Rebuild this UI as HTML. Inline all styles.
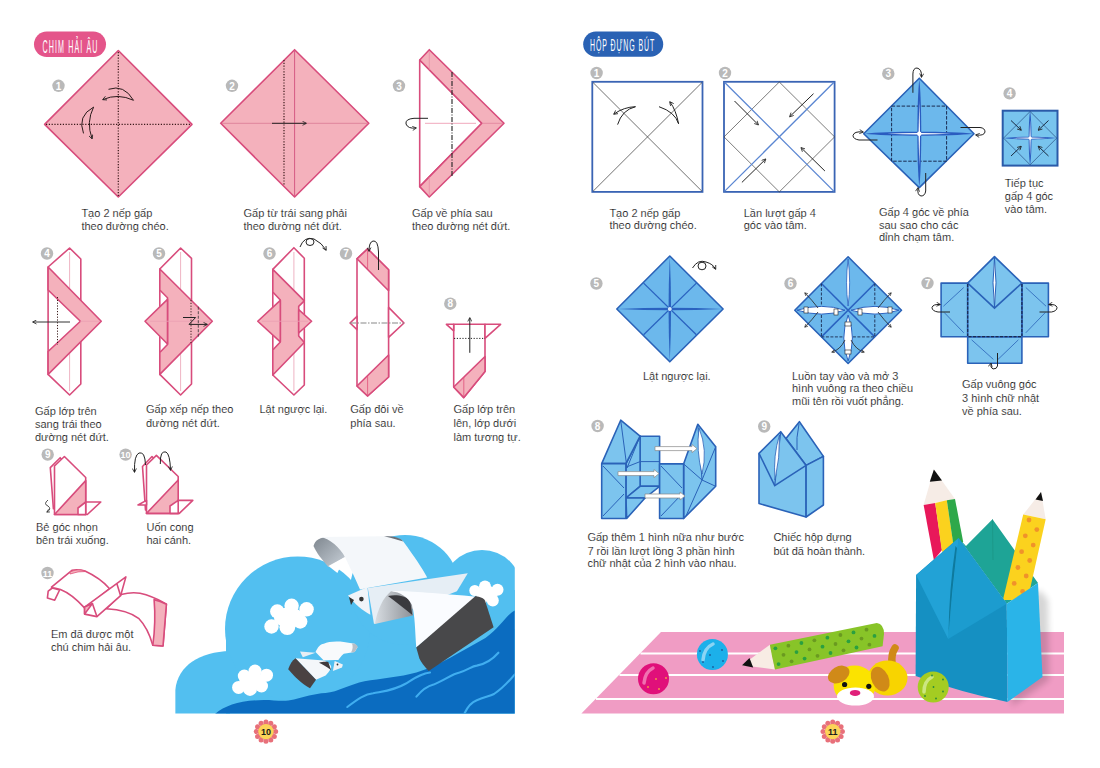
<!DOCTYPE html>
<html><head><meta charset="utf-8">
<style>
html,body{margin:0;padding:0;background:#fff;}
body{width:1100px;height:768px;overflow:hidden;position:relative;}
svg{position:absolute;left:0;top:0;}
text{font-family:"Liberation Sans",sans-serif;}
.t{font-size:11px;fill:#000;stroke:#fff;stroke-width:0.2;paint-order:normal;}
.pk{fill:#f4b1bc;stroke:#d84c7c;stroke-width:1.6;stroke-linejoin:round;}
.pw{fill:#fff;stroke:#d84c7c;stroke-width:1.6;stroke-linejoin:round;}
.pl{fill:none;stroke:#d84c7c;stroke-width:1.6;stroke-linejoin:round;}
.thin{fill:none;stroke:#eaa0b4;stroke-width:0.8;}
.dot{fill:none;stroke:#3a1a1a;stroke-width:1.2;stroke-dasharray:1.2 1.6;}
.arr{fill:none;stroke:#222;stroke-width:1;}
.num{fill:#b9b9b9;}
.numt{font-size:10px;fill:#fff;font-weight:bold;text-anchor:middle;}
.bf{fill:#7cc4ee;stroke:#2a62b8;stroke-width:1.6;stroke-linejoin:round;}
.bl{fill:none;stroke:#2a62b8;stroke-width:1;}
</style></head>
<body>
<svg width="1100" height="768" viewBox="0 0 1100 768">
<defs>
<marker id="ah" viewBox="0 0 10 10" refX="8" refY="5" markerWidth="5" markerHeight="5" orient="auto-start-reverse"><path d="M1 1 L9 5 L1 9" fill="none" stroke="#222" stroke-width="1.6"/></marker>
</defs>

<!-- ============ LEFT PAGE ============ -->
<g id="left">
<!-- header -->
<rect x="34" y="31.5" width="72" height="25.5" rx="12.75" fill="#e4558a"/>
<text transform="translate(42.4 52.8) scale(0.4 1)" x="0" y="0" font-size="17.8" fill="#fff" letter-spacing="2.8">CHIM HẢI ÂU</text>

<!-- step 1 -->
<circle class="num" cx="58.5" cy="85.8" r="6.2"/><text class="numt" x="58.5" y="89.5">1</text>
<polygon class="pk" points="118.3,50.5 192,124.4 118.3,197 44.6,124.4"/>
<line class="dot" x1="118.3" y1="52" x2="118.3" y2="196"/>
<line class="dot" x1="46" y1="124.4" x2="191" y2="124.4"/>
<path class="arr" d="M108.5,89.3 Q124,84 133.5,100.3 Q118,93 103,99.5" marker-end="url(#ah)" style="stroke:#2a1a1a"/>
<path class="arr" d="M83.5,133.4 Q77,116 93.6,107.1 Q86,122 92,138.5" marker-end="url(#ah)" style="stroke:#2a1a1a"/>
<text class="t" x="81.4" y="217">Tạo 2 nếp gấp</text>
<text class="t" x="81.4" y="229.5">theo đường chéo.</text>

<!-- step 2 -->
<circle class="num" cx="232" cy="85.8" r="6.2"/><text class="numt" x="232" y="89.5">2</text>
<polygon class="pk" points="294.6,49.7 368.8,123.3 294.6,197 220.7,123.3"/>
<line class="thin" x1="294.6" y1="50" x2="294.6" y2="196" style="stroke:#d65a84;stroke-width:1"/>
<line class="thin" x1="222" y1="123.3" x2="367" y2="123.3" style="stroke:#dd7f98;stroke-width:0.9"/>
<line class="dot" x1="284" y1="60" x2="284" y2="186"/>
<line class="arr" x1="272" y1="123.3" x2="306" y2="123.3" marker-end="url(#ah)"/>
<text class="t" x="243.5" y="217">Gấp từ trái sang phải</text>
<text class="t" x="243.5" y="229.5">theo đường nét đứt.</text>

<!-- step 3 -->
<circle class="num" cx="399" cy="85.8" r="6.2"/><text class="numt" x="399" y="89.5">3</text>
<polygon class="pw" points="419.7,60 481.8,123.3 419.7,186.6"/>
<polygon class="pk" points="419.7,60 429.3,49.7 504,123.3 429.3,197 419.7,186.6 481.8,123.3"/>
<line x1="425" y1="123.3" x2="476" y2="123.3" stroke="#f0a8bc" stroke-width="1"/><line x1="482" y1="123.3" x2="503" y2="123.3" stroke="#e07a96" stroke-width="0.7"/><line x1="429.3" y1="51" x2="429.3" y2="70" stroke="#e88aa4" stroke-width="0.7"/><line x1="429.3" y1="177" x2="429.3" y2="196" stroke="#e88aa4" stroke-width="0.7"/>
<line x1="452" y1="72" x2="452" y2="176" stroke="#222" stroke-width="1.1" stroke-dasharray="5 1.5 1 1.5"/>
<path class="arr" d="M428 118.3 L414 118.3 Q405 119 406 124 Q408 129 416 128" marker-end="url(#ah)"/>
<text class="t" x="412" y="217">Gấp về phía sau</text>
<text class="t" x="412" y="229.5">theo đường nét đứt.</text>

<!-- step 4 -->
<circle class="num" cx="47" cy="253.5" r="6.2"/><text class="numt" x="47" y="257.2">4</text>
<polygon class="pw" points="69.6,248 80.8,259 80.8,384 69.6,395 48.1,374.4 48.1,267"/>
<line class="thin" x1="69.6" y1="252" x2="69.6" y2="292"/><line class="thin" x1="69.6" y1="350" x2="69.6" y2="391"/>
<polygon class="pk" points="48.1,267 101.25,321.25 48.1,374.4 48.1,351.5 80.4,321.25 48.1,290"/>
<line class="thin" x1="80" y1="321.25" x2="100" y2="321.25"/>
<line class="dot" x1="57.5" y1="297" x2="57.5" y2="345" style="stroke-width:1"/>
<line class="arr" x1="70" y1="322" x2="33" y2="322" marker-end="url(#ah)" style="stroke:#333"/>
<text class="t" x="35" y="414.5">Gấp lớp trên</text>
<text class="t" x="35" y="428.2">sang trái theo</text>
<text class="t" x="35" y="441.4">đường nét đứt.</text>

<!-- step 5 -->
<circle class="num" cx="159" cy="253.5" r="6.2"/><text class="numt" x="159" y="257.2">5</text>
<polygon class="pw" points="180.6,248 191.5,258.3 191.5,384 180.6,395 159.8,374.4 159.8,269"/>
<line class="thin" x1="180.6" y1="252" x2="180.6" y2="292"/><line class="thin" x1="180.6" y1="350" x2="180.6" y2="391"/>
<polygon class="pk" points="159.8,269 212.3,321.25 159.8,374.4 159.8,352.5 167.5,344.5 167.5,297.7 159.8,290"/>
<polygon class="pk" points="145,321.25 167.5,299.4 167.5,344"/>
<line class="thin" x1="150" y1="321.25" x2="210" y2="321.25"/>
<line class="dot" x1="191" y1="300" x2="191" y2="343" style="stroke-width:1"/>
<line x1="198.3" y1="306.7" x2="198.3" y2="338" stroke="#333" stroke-width="0.8" stroke-dasharray="3 1.5"/>
<path class="arr" d="M183 317.5 L195.6 317.5 L189 324.4 L207 324.4" marker-end="url(#ah)"/>
<text class="t" x="146" y="413.4">Gấp xếp nếp theo</text>
<text class="t" x="146" y="427">đường nét đứt.</text>

<!-- step 6 -->
<circle class="num" cx="269.5" cy="253.5" r="6.2"/><text class="numt" x="269.5" y="257.2">6</text>
<polygon class="pw" points="293.9,247.7 304.3,258.3 304.3,385 293.9,395 272.8,375 272.8,269.4"/>
<line class="thin" x1="293.9" y1="252" x2="293.9" y2="292"/><line class="thin" x1="293.9" y1="350" x2="293.9" y2="391"/>
<polygon class="pk" points="272.8,269.4 304.3,300.9 298.7,306.4 298.7,336 304.3,342.5 272.8,375 272.8,350 280.3,342 280.3,300 272.8,292"/>
<polygon class="pk" points="257.75,321.25 280.3,300.4 280.3,341.8"/>
<polygon class="pk" points="298.7,309.7 311.6,321.25 298.7,333"/>
<line class="thin" x1="262" y1="321.25" x2="308" y2="321.25"/>
<path class="arr" d="M300 247 Q304 236 314 239 Q322 243 326 250" marker-end="url(#ah)"/>
<ellipse cx="310" cy="242" rx="4" ry="3.5" fill="none" stroke="#222" stroke-width="1"/>
<text class="t" x="259.5" y="413.4">Lật ngược lại.</text>

<!-- step 7 -->
<circle class="num" cx="346" cy="253.5" r="6.2"/><text class="numt" x="346" y="257.2">7</text>
<polygon class="pw" points="367.6,248.8 388.6,269.8 388.6,377 367.6,396 357,386 357,258.8"/>
<polygon class="pw" points="350,323 357,316.3 357,329.6"/>
<polygon class="pw" points="388.6,307.4 404,323 388.6,337.3"/>
<polygon class="pk" points="357,258.8 367.6,248.8 388.6,269.8 388.6,290.8"/>
<polygon class="pk" points="357,386 388.6,355 388.6,377 367.6,396"/>
<line class="thin" x1="367.6" y1="250" x2="367.6" y2="269" style="stroke:#e0507a"/>
<line class="thin" x1="367.6" y1="376" x2="367.6" y2="395" style="stroke:#e0507a"/>
<line x1="350" y1="323" x2="404" y2="323" stroke="#888" stroke-width="1.2" stroke-dasharray="6 1.5 1.5 1.5"/>
<path class="arr" d="M378.5 270 L378.5 252 Q378 240 373 241 Q369 242 369 251" marker-end="url(#ah)"/>
<text class="t" x="350.3" y="413.4">Gấp đôi về</text>
<text class="t" x="350.3" y="427">phía sau.</text>

<!-- step 8 -->
<circle class="num" cx="450.3" cy="303.7" r="6.2"/><text class="numt" x="450.3" y="307.4">8</text>
<polygon class="pw" points="453.7,324.3 485,324.3 485,371.4 463.8,397.6 453.7,387"/>
<polygon class="pw" points="446.4,324.3 453.7,324.3 453.7,330.8"/>
<polygon class="pw" points="485,324.3 500.6,324.3 485,338.4"/>
<polygon class="pk" points="453.7,387 485,356.5 485,371.4 463.8,397.6"/>
<line class="thin" x1="463.8" y1="377" x2="463.8" y2="396" style="stroke:#e0507a"/>
<line class="dot" x1="454" y1="338.4" x2="485" y2="338.4" style="stroke-width:1;stroke:#222"/>
<line class="arr" x1="469.8" y1="352.8" x2="469.8" y2="318" marker-end="url(#ah)"/>
<text class="t" x="453.5" y="413.4">Gấp lớp trên</text>
<text class="t" x="453.5" y="427">lên, lớp dưới</text>
<text class="t" x="453.5" y="440.5">làm tương tự.</text>

<!-- step 9 -->
<circle class="num" cx="47.7" cy="454.6" r="6.2"/><text class="numt" x="47.7" y="458.3">9</text>
<polygon class="pw" points="50.3,467.6 60.2,457.7 70,470 53.4,508.75"/>
<polygon class="pw" points="54.5,466 64.4,456.5 85.7,477.5 85.7,514.5 54.5,514.5"/>
<polygon class="pk" points="54.5,514.5 85.7,480.6 85.7,514.5"/>
<polygon class="pw" points="85.7,502 100.8,502 87.3,514.5 85.7,514.5"/>
<polygon class="pw" points="78,508 85.7,502 85.7,514.5 78,514.5"/>
<path class="arr" d="M48 500 Q43 504 48 506 Q52 509 47 512" marker-end="url(#ah)" style="stroke-width:0.8"/>
<text class="t" x="36" y="530.8">Bẻ góc nhọn</text>
<text class="t" x="36" y="544">bên trái xuống.</text>

<!-- step 10 -->
<circle class="num" cx="125.6" cy="454.6" r="6.2"/><text class="numt" x="125.6" y="458.3" style="font-size:9px">10</text>
<polygon class="pw" points="142.5,466.5 152,456.5 160,465 145.5,510"/>
<polygon class="pw" points="146.5,465 156.4,455.4 178.2,476.5 178.2,513.4 146.5,513.4"/>
<polygon class="pk" points="146.5,513.4 178.2,480 178.2,513.4"/>
<polygon class="pw" points="178.2,500.4 192.8,500.4 179.3,513.4 178.2,513.4"/>
<polygon class="pw" points="170,506 178.2,500.4 178.2,513.4 170,513.4"/>
<polygon class="pw" points="138,505 146.5,500.4 146.5,505"/>
<path class="arr" d="M145.5 465 Q145 451 139 453 Q134 455 134.5 472" marker-end="url(#ah)"/>
<path class="arr" d="M160.3 464 Q160 450 166 452 Q170 454 170.5 470" marker-end="url(#ah)"/>
<text class="t" x="146.5" y="530.8">Uốn cong</text>
<text class="t" x="146.5" y="544">hai cánh.</text>

<!-- step 11 -->
<circle class="num" cx="47.5" cy="573" r="6.2"/><text class="numt" x="47.5" y="576.7" style="font-size:9px">11</text>
<path class="pw" d="M51.5,587.1 L71.9,570.3 Q78,569 85,571.1 Q100,578 109.6,588.7 L85,608.4 Q72,594 60.5,589.5 Q55,588 52.3,587.9 Z"/>
<path d="M70,572 Q78,568 86,571.5 Q78,571 70,574 Z" fill="#f4b3bd" stroke="#e0507a" stroke-width="0.8"/>
<path class="pw" d="M52.3,588 L48.2,591.2 L47.4,598.1 L54.7,600.2 L59.6,590 Z"/>
<path class="pw" d="M121,594.5 Q135,591 146,594.8 Q158,599 166.4,604.3 L163,646 L152.8,645.3 Q148,628 139,618.7 Q128,610 106.3,608.8 Z"/>
<path class="pk" d="M154.1,599.6 Q160,601 166.4,604.3 L163,646 L152.8,645.3 Q156,622 154.1,599.6 Z"/>
<path class="pw" d="M84.6,607.1 L125.9,576.9 L120.6,595.7 L96.9,616.6 L84.6,614.1 Z"/>
<path class="pk" d="M84.6,607.1 L92.4,603.5 L84.6,614.1 Z"/>
<path class="pl" d="M92.4,603.5 L96.9,616.6 M116.9,583.8 L120.6,595.7"/>
<text class="t" x="51" y="637.8">Em đã được một</text>
<text class="t" x="51" y="650.5">chú chim hải âu.</text>

<!-- cloud scene -->
<clipPath id="scn"><rect x="175.2" y="400" width="339.6" height="313.6"/></clipPath>
<g clip-path="url(#scn)">
<g fill="#52bff0">
<rect x="226" y="629" width="289" height="85"/>
<path d="M175.2,714 L175.2,690 C178,665 200,652 230,651 L230,714 Z"/>
<circle cx="297.6" cy="629" r="72.6"/>
<circle cx="405" cy="590" r="55"/>
<circle cx="482" cy="590" r="40"/>
<rect x="440" y="590" width="75" height="124"/>
</g>
<path fill="#0b6cc0" d="M215,714 C226,705 240,700.5 263.7,700 C276,700 284,702 294,699.5 C304,697 314,693.5 325.6,692.9 C338,692 350,684 364.5,681.2 C380,678.6 400,677 416.4,672.5 C440,665 460,652 485.4,638 C500,628 506,615 514.8,610.4 L514.8,714 Z"/>
<g fill="none" stroke="#40aef0" stroke-width="2.1" stroke-linecap="round">
<path d="M347.3,707 C358,699 365,694 373.2,693.3 C385,691 395,690 405,684 C415,678 422,673 430,672.5"/>
<path d="M416.4,696.7 C422,690 428,686 433.6,684.6 C445,680 452,674 459.5,672.5 C468,670 472,666 476.8,665.6 C485,664 492,660 498.4,652.7"/>
<path d="M464.7,713 C468,706 472,702 476.8,700.2 C485,697 490,696 494,694 C500,690 505,686 514.8,674.3"/>
</g>
<!-- white clouds -->
<g fill="#fff">
<circle cx="277.3" cy="611.5" r="7.2"/><circle cx="291.6" cy="605.8" r="7.2"/><circle cx="306.6" cy="609.3" r="7.2"/>
<circle cx="271.5" cy="626.5" r="7.2"/><circle cx="287.3" cy="627.2" r="7.9"/><circle cx="300.2" cy="621.5" r="7.2"/>
<ellipse cx="289" cy="617.5" rx="15" ry="10"/>
<circle cx="244.3" cy="676" r="6.5"/><circle cx="255" cy="671" r="6.5"/><circle cx="266.5" cy="675.2" r="6.5"/>
<circle cx="238.6" cy="687.4" r="6.5"/><circle cx="250" cy="688.9" r="7"/><circle cx="261.5" cy="686" r="6.5"/>
<ellipse cx="252.5" cy="681" rx="13" ry="8"/>
<circle cx="474.8" cy="590.5" r="5.5"/><circle cx="485" cy="586.6" r="6"/><circle cx="497.5" cy="589.7" r="6"/><circle cx="492.8" cy="600.6" r="6"/><circle cx="482" cy="598" r="6"/><ellipse cx="487" cy="593" rx="11" ry="7"/>
</g>
</g>
<!-- big seagull -->
<defs>
<linearGradient id="gcurl" x1="0" y1="0" x2="1" y2="1"><stop offset="0" stop-color="#7e868e"/><stop offset="1" stop-color="#c8d0d8"/></linearGradient>
<linearGradient id="gcav" x1="0" y1="0" x2="1" y2="0"><stop offset="0" stop-color="#d8dde2"/><stop offset="1" stop-color="#8c9096"/></linearGradient>
</defs>
<path fill="url(#gcurl)" d="M313.5,546 C315,540 320,537 330,537 C338,540 342,548 345,557 L328.4,567 C322,560 316,552 313.5,546 Z"/>
<path fill="#fff" d="M328.4,566 L345,557 L337.4,573 Z"/>
<path fill="#f4f7fa" d="M319.5,537 L384,536.2 C395,537 400,538 403.3,541.5 C414,556 422,568 427.2,577.4 L367.4,587.9 L360,589.4 C356,580 352,572 345,557 C340,548 330,538 319.5,537 Z"/>
<path fill="#6a7078" d="M384,536.2 C395,536 401,538 403.3,541.5 L398,540 C392,538 388,537 384,536.2 Z"/>
<path fill="#e6eef5" d="M367.8,588 L467.8,573.3 L456.9,591.3 L374,624 Z"/>
<path fill="url(#gcav)" d="M374.8,624 C378,608 383,598 391,591.25 C400,592 408,594 412,600 L413,615.5 Z"/>
<path fill="#3a3a3e" d="M388,596 C396,594 405,596 410,600 L412.3,615 C404,608 396,602 388,596 Z"/>
<path fill="#fafcff" d="M391,591.25 C400,590 430,593 478.75,596.7 L416.25,647.5 C415,630 415,615 412,605 C408,597 400,592 391,591.25 Z"/>
<path fill="#48484a" d="M416.25,647.5 L475.6,596 C480,597 484,598 485,600.6 L493.6,627.2 L428.75,671 C424,666 421,662 419.4,658.4 Z"/>
<path fill="#f0f4f8" d="M348,595.4 L367.4,587 L370.4,614.8 C362,610 355,604 348,595.4 Z"/>
<path fill="#333" d="M349,597 L354,600 L351,605 Z"/>
<circle cx="361.4" cy="599.1" r="2.3" fill="#333"/>
<!-- small seagull -->
<path fill="#e8eef4" d="M300,651.4 L315.5,652.8 L302.8,657.3 Z"/>
<path fill="#f8fafc" d="M315.5,651.9 C318,647 320,644 323.8,643.7 C328,641.5 336,641 343.8,641.9 L354.7,643.7 L357.5,647.3 L354.7,651.9 L343.8,653.7 C341,656 339,659 338.3,660 L334.7,660 L323.8,660.5 Z"/>
<path fill="#b8bec6" d="M352,643.5 L354.7,643.7 C357,645 358,646 357.5,647.3 L354.7,651.9 L351,652.5 C353,649 353,646 352,643.5 Z"/>
<path fill="#f4f7fa" d="M295.5,658.3 L323.8,660.5 C330,663 332,666 331,668.3 C329,672 327,674 325.6,675.6 L316,679.7 Z"/>
<path fill="#3e3a3c" d="M319,662.8 C322,661.5 326,661.5 328.3,661.9 L331,670 C327,667 322,664 319,662.8 Z"/>
<path fill="#eef2f6" d="M334.7,661 L342.9,664.6 L342,667.4 L332.9,671 Z"/>
<circle cx="337.5" cy="664.5" r="0.9" fill="#333"/>
<path fill="#4a4242" d="M288.2,669.2 C290,664 292,661 295.5,658.3 L316,679.7 L310,688.3 C302,684 294,676 288.2,669.2 Z"/>
<!-- page number 10 -->
<g transform="translate(265.95 731.6)"><g fill="#e8707a"><circle cx="9.70" cy="0.00" r="2.5"/><circle cx="8.40" cy="4.85" r="2.5"/><circle cx="4.85" cy="8.40" r="2.5"/><circle cx="0.00" cy="9.70" r="2.5"/><circle cx="-4.85" cy="8.40" r="2.5"/><circle cx="-8.40" cy="4.85" r="2.5"/><circle cx="-9.70" cy="0.00" r="2.5"/><circle cx="-8.40" cy="-4.85" r="2.5"/><circle cx="-4.85" cy="-8.40" r="2.5"/><circle cx="-0.00" cy="-9.70" r="2.5"/><circle cx="4.85" cy="-8.40" r="2.5"/><circle cx="8.40" cy="-4.85" r="2.5"/></g><circle r="8.2" fill="#e8707a"/><circle r="7.7" fill="#fcd458"/><text x="0" y="3.3" font-size="9" font-weight="bold" text-anchor="middle" fill="#1a1a1a">10</text></g>
</g>

<!-- ============ RIGHT PAGE ============ -->
<g id="right">
<rect x="583.2" y="31.5" width="80" height="25.3" rx="12.65" fill="#2a62b4"/>
<text transform="translate(590 50.9) scale(0.4 1)" x="0" y="0" font-size="17.4" fill="#fff" letter-spacing="2.27">HỘP ĐỰNG BÚT</text>

<!-- R step 1 -->
<circle class="num" cx="596.6" cy="73" r="6.2"/><text class="numt" x="596.6" y="76.7">1</text>
<rect x="592.3" y="81.8" width="110.2" height="110.1" fill="#fff" stroke="#3a64b4" stroke-width="1.8"/>
<line x1="593" y1="82.5" x2="702" y2="191.3" stroke="#333" stroke-width="0.7"/>
<line x1="702" y1="82.5" x2="593" y2="191.3" stroke="#333" stroke-width="0.7"/>
<path class="arr" d="M617.6 124.6 Q622 110 635.5 106.7 Q624 107 614 114" marker-end="url(#ah)"/>
<path class="arr" d="M659 106.7 Q675 112 678.6 123.8 Q676 110 670 102" marker-end="url(#ah)"/>
<text class="t" x="609.4" y="216.9">Tạo 2 nếp gấp</text>
<text class="t" x="609.4" y="229.4">theo đường chéo.</text>

<!-- R step 2 -->
<circle class="num" cx="725" cy="73" r="6.2"/><text class="numt" x="725" y="76.7">2</text>
<rect x="724" y="81.8" width="110.6" height="110.1" fill="#fff" stroke="#3a64b4" stroke-width="1.8"/>
<polygon points="779.3,82 834.6,136.9 779.3,191.9 724,136.9" fill="none" stroke="#444" stroke-width="0.7"/>
<line x1="724.5" y1="82.3" x2="834" y2="191.4" stroke="#5a86d2" stroke-width="1.3"/>
<line x1="834" y1="82.3" x2="724.5" y2="191.4" stroke="#5a86d2" stroke-width="1.3"/>
<line class="arr" x1="734.5" y1="101" x2="758.1" y2="124.6" marker-end="url(#ah)"/>
<line class="arr" x1="813.5" y1="93.7" x2="789.9" y2="116.5" marker-end="url(#ah)"/>
<line class="arr" x1="741.9" y1="182.4" x2="765.5" y2="159.3" marker-end="url(#ah)"/>
<line class="arr" x1="824.9" y1="171" x2="801.3" y2="147.9" marker-end="url(#ah)"/>
<text class="t" x="743.75" y="216.9">Lần lượt gấp 4</text>
<text class="t" x="743.75" y="229.4">góc vào tâm.</text>

<!-- R step 3 -->
<defs>
<linearGradient id="glh" x1="0" y1="0" x2="1" y2="0"><stop offset="0" stop-color="#2a62c0"/><stop offset="0.5" stop-color="#fff"/><stop offset="1" stop-color="#2a62c0"/></linearGradient>
<linearGradient id="glv" x1="0" y1="0" x2="0" y2="1"><stop offset="0" stop-color="#2a62c0"/><stop offset="0.5" stop-color="#fff"/><stop offset="1" stop-color="#2a62c0"/></linearGradient>
</defs>
<circle class="num" cx="888.3" cy="73.7" r="6.2"/><text class="numt" x="888.3" y="77.4">3</text>
<polygon class="bf" points="919.3,78.2 974,133.8 919.3,187.6 863.7,133.8" style="fill:#6cb8ec"/>
<rect x="891.6" y="106.1" width="55" height="55.1" fill="none" stroke="#1a2a50" stroke-width="1" stroke-dasharray="3.5 1.5"/>
<path d="M865 133.8 C885 131.2 953 131.2 973 133.8 C953 136.4 885 136.4 865 133.8 Z" fill="#2a5cc0"/>
<path d="M919.3 79.5 C916.7 100 916.7 166 919.3 186.5 C921.9 166 921.9 100 919.3 79.5 Z" fill="#2a5cc0"/>
<path d="M887 133.8 Q919.3 132.3 951 133.8 Q919.3 135.3 887 133.8 Z" fill="#fff"/>
<path d="M919.3 101 Q917.8 133.8 919.3 166 Q920.8 133.8 919.3 101 Z" fill="#fff"/>
<circle cx="919.3" cy="133.8" r="2.2" fill="#fff"/>
<path class="arr" d="M912.9 92.8 L912.9 74 Q913 68 917 68 Q922 69 921.5 77" marker-end="url(#ah)"/>
<path class="arr" d="M925.7 173 L925.7 191 Q925 196 921 196 Q917 195 918 188" marker-end="url(#ah)"/>
<path class="arr" d="M877.5 140 L859 140 Q853 139 853 135.5 Q854 131 863 132" marker-end="url(#ah)"/>
<path class="arr" d="M960.5 127.5 L980 127.5 Q985 128 985 132 Q984 136 976 135" marker-end="url(#ah)"/>
<text class="t" x="879" y="216">Gấp 4 góc về phía</text>
<text class="t" x="879" y="228.8">sau sao cho các</text>
<text class="t" x="879" y="241.4">đỉnh chạm tâm.</text>

<!-- R step 4 -->
<circle class="num" cx="1009.6" cy="93.4" r="6.2"/><text class="numt" x="1009.6" y="97.1">4</text>
<rect x="1002.7" y="110.7" width="54.8" height="54.9" fill="#78c4ee" stroke="#2a5aa8" stroke-width="2"/>
<polygon points="1030.1,111.5 1056.7,138.1 1030.1,164.8 1003.5,138.1" fill="none" stroke="#1a3a70" stroke-width="0.6"/>
<path d="M1004 138.1 C1014 136.2 1046 136.2 1056 138.1 C1046 140 1014 140 1004 138.1 Z" fill="#2a5cc0"/>
<path d="M1030.1 111.5 C1028.2 121 1028.2 155 1030.1 164.8 C1032 155 1032 121 1030.1 111.5 Z" fill="#2a5cc0"/>
<path d="M1012 138.1 Q1030.1 136.9 1048 138.1 Q1030.1 139.3 1012 138.1 Z" fill="#fff"/>
<path d="M1030.1 120 Q1028.9 138.1 1030.1 156 Q1031.3 138.1 1030.1 120 Z" fill="#fff"/>
<circle cx="1030.1" cy="138.1" r="1.6" fill="#fff"/>
<line class="arr" x1="1011" y1="120.5" x2="1021" y2="130" marker-end="url(#ah)" style="stroke:#1a2a40"/>
<line class="arr" x1="1048.5" y1="120.5" x2="1038.5" y2="130" marker-end="url(#ah)" style="stroke:#1a2a40"/>
<line class="arr" x1="1011" y1="156" x2="1021" y2="146.5" marker-end="url(#ah)" style="stroke:#1a2a40"/>
<line class="arr" x1="1048.5" y1="156" x2="1038.5" y2="146.5" marker-end="url(#ah)" style="stroke:#1a2a40"/>
<text class="t" x="1004.8" y="186.7">Tiếp tục</text>
<text class="t" x="1004.8" y="199.6">gấp 4 góc</text>
<text class="t" x="1004.8" y="212.6">vào tâm.</text>

<!-- R step 5 -->
<circle class="num" cx="596.4" cy="283.5" r="6.2"/><text class="numt" x="596.4" y="287.2">5</text>
<polygon class="bf" points="669.8,256 723.1,309 669.8,361.8 616.8,309" style="fill:#6cb8ec"/>
<g stroke="#2a62c0" stroke-width="1.3">
<line x1="643.6" y1="283.1" x2="696.4" y2="334.7"/><line x1="696.4" y1="283.1" x2="643.6" y2="334.7"/>
</g>
<path d="M617.5 309 Q669.8 306.5 722.5 309 Q669.8 311.5 617.5 309 Z" fill="#2a62c0"/>
<path d="M669.8 256.5 Q667.3 309 669.8 361.5 Q672.3 309 669.8 256.5 Z" fill="#2a62c0"/>
<circle cx="669.8" cy="309" r="2" fill="#cfe6fa"/>
<path class="arr" d="M692.5 268 Q698 259 706 262 Q713 264 715.5 269" marker-end="url(#ah)"/>
<ellipse cx="702" cy="266" rx="4" ry="3.8" fill="none" stroke="#222" stroke-width="1"/>
<text class="t" x="642.9" y="379.5">Lật ngược lại.</text>

<!-- R step 6 -->
<circle class="num" cx="790.5" cy="283.5" r="6.2"/><text class="numt" x="790.5" y="287.2">6</text>
<polygon class="bf" points="848.1,256.8 901.5,310.2 848.1,363.5 794.8,310.2" style="fill:#6cb8ec"/>
<g stroke="#2a62c0" stroke-width="1.5">
<line x1="821.4" y1="283.5" x2="874.8" y2="336.9"/><line x1="874.8" y1="283.5" x2="821.4" y2="336.9"/>
</g>
<g stroke="#1a2a50" stroke-width="0.9" stroke-dasharray="3 1.5" fill="none">
<line x1="821.4" y1="283.5" x2="821.4" y2="336.9"/><line x1="874.8" y1="283.5" x2="874.8" y2="336.9"/><line x1="821.4" y1="336.9" x2="874.8" y2="336.9"/>
</g>
<path d="M797 310.2 Q822 302.5 845 310.2 Q822 318 797 310.2 Z" fill="#fff" stroke="#2a62c0" stroke-width="1"/>
<path d="M851 310.2 Q875 302.5 899 310.2 Q875 318 851 310.2 Z" fill="#fff" stroke="#2a62c0" stroke-width="1"/>
<path d="M848.1 259 Q845 283 848.1 306 Q851.2 283 848.1 259 Z" fill="#fff" stroke="#2a62c0" stroke-width="0.8"/>
<path d="M848.1 315 Q839.5 338 848.1 361 Q856.7 338 848.1 315 Z" fill="#fff" stroke="#2a62c0" stroke-width="1"/>
<g fill="#fff" stroke="#222" stroke-width="0.6">
<rect x="804" y="307" width="4" height="6"/><rect x="834" y="309" width="4" height="6"/>
<rect x="858" y="309" width="4" height="6"/><rect x="888" y="307" width="4" height="6"/>
<rect x="845" y="322" width="6" height="4"/><rect x="845" y="350" width="6" height="4"/>
</g>
<g class="arr" style="stroke-width:0.8">
<path d="M818 308 Q812 300 805 293" marker-end="url(#ah)"/><path d="M818 312 Q812 320 805 327" marker-end="url(#ah)"/>
<path d="M878 308 Q884 300 891 293" marker-end="url(#ah)"/><path d="M878 312 Q884 320 891 327" marker-end="url(#ah)"/>
<path d="M845 340 Q840 350 832 352" marker-end="url(#ah)"/><path d="M851 340 Q856 350 864 352" marker-end="url(#ah)"/>
</g>
<text class="t" x="792" y="379.5">Luồn tay vào và mở 3</text>
<text class="t" x="792" y="392">hình vuông ra theo chiều</text>
<text class="t" x="792" y="405">mũi tên rồi vuốt phẳng.</text>

<!-- R step 7 -->
<circle class="num" cx="927.5" cy="283.1" r="6.2"/><text class="numt" x="927.5" y="286.8">7</text>
<g class="bf" style="fill:#7cc4ee">
<rect x="941.1" y="283.1" width="26.6" height="53.6"/>
<rect x="1021.9" y="283.1" width="26.5" height="53.6"/>
<rect x="967.7" y="336.7" width="54.2" height="26.6"/>
<polygon points="967.7,283.1 994.5,256.6 1021.9,283.1 1021.9,336.7 967.7,336.7"/>
</g>
<polyline points="967.7,283.1 994.5,308.1 1021.9,283.1" fill="none" stroke="#2a62b8" stroke-width="1.6"/>
<path d="M994.5 258 Q991.5 283 994.5 307 Q997.5 283 994.5 258 Z" fill="#fff" stroke="#2a62b8" stroke-width="1"/>
<g stroke="#1a2a50" stroke-width="1.2" stroke-dasharray="3 1.5">
<line x1="967.7" y1="284" x2="967.7" y2="336"/><line x1="1021.9" y1="284" x2="1021.9" y2="336"/><line x1="968.5" y1="336.7" x2="1021" y2="336.7"/>
</g>
<g stroke="#2a62b8" stroke-width="0.8">
<line x1="963.75" y1="287.5" x2="943.4" y2="306.25"/><line x1="944.2" y1="312.5" x2="963.75" y2="332.8"/>
<line x1="1025.8" y1="287.5" x2="1046.1" y2="306.25"/><line x1="1045.3" y1="312.5" x2="1025.8" y2="332.8"/>
<line x1="971.6" y1="339.8" x2="993.4" y2="359.4"/><line x1="1018.4" y1="339.8" x2="998" y2="359.4"/>
</g>
<path class="arr" d="M950 312 L938 312 Q932 311 932 307.5 Q933 304 940 304.5" marker-end="url(#ah)"/>
<path class="arr" d="M1039.5 312 L1051.5 312 Q1057 311 1057 307.5 Q1056 304 1049 304.5" marker-end="url(#ah)"/>
<path class="arr" d="M997.5 353 L997.5 366 Q997 369 993 369 Q990 368 991 363.5" marker-end="url(#ah)"/>
<text class="t" x="962" y="388.4">Gấp vuông góc</text>
<text class="t" x="962" y="401.5">3 hình chữ nhật</text>
<text class="t" x="962" y="414.5">về phía sau.</text>

<!-- R step 8 -->
<circle class="num" cx="597.6" cy="426" r="6.2"/><text class="numt" x="597.6" y="429.7">8</text>
<g class="bf" style="fill:#7cc4ee">
<!-- left piece back parts -->
<polygon points="640.1,436.2 659.6,436.2 659.6,486.3 640.1,486.3"/>
<polygon points="625.9,463.6 640.1,436.2 640.1,486.3 625.9,498"/>
<polygon points="625.9,498 640.1,486.3 659.6,486.3 645,498"/>
<polygon points="625.9,498 645,498 626.7,518.5"/>
<polygon points="601.7,463.6 620.7,420.2 640.1,436.2 625.9,463.6"/>
<polygon points="601.7,463.6 625.9,463.6 625.9,518.5 601.7,518.5"/>
<!-- right piece -->
<polygon points="683.6,463.9 697.8,424.2 715.7,446.7 715.7,486.3 683.6,518.5"/>
<polygon points="659.6,463.9 683.6,463.9 683.6,518.5 659.6,518.5"/>
</g>
<g stroke="#2a62b8" stroke-width="1" fill="none">
<polyline points="620.7,420.2 627,468 640.1,436.2"/>
<line x1="603" y1="466" x2="624" y2="488"/><line x1="603" y1="516" x2="624" y2="494"/>
<line x1="661" y1="466" x2="682" y2="488"/><line x1="661" y1="516" x2="682" y2="494"/>
<polyline points="697.8,424.2 702,480 715.7,446.7"/>
<line x1="683.6" y1="463.9" x2="702" y2="480"/><line x1="702" y1="480" x2="715.7" y2="486.3"/>
<line x1="686" y1="516" x2="702" y2="480"/>
<line x1="640.1" y1="461.6" x2="659.6" y2="461.6"/><line x1="626.7" y1="466.9" x2="640.1" y2="461.6"/>
</g>
<path d="M699 428 Q696 450 702 474 Q708 450 699 428 Z" fill="#fff" stroke="#2a62b8" stroke-width="0.8"/>
<g stroke="#888" stroke-width="0.7" fill="#fff">
<path d="M655 446.6 L692 446.6 L692 444.5 L697 448.6 L692 452.7 L692 450.6 L655 450.6 Z"/>
<path d="M618 471.6 L654 471.6 L654 469.5 L659 473.6 L654 477.7 L654 475.6 L618 475.6 Z"/>
<path d="M645 494 L680 494 L680 492 L685 496 L680 500 L680 498 L645 498 Z"/>
</g>
<text class="t" x="587.4" y="541">Gấp thêm 1 hình nữa như bước</text>
<text class="t" x="587.4" y="554.5">7 rồi lần lượt lồng 3 phần hình</text>
<text class="t" x="587.4" y="567.4">chữ nhật của 2 hình vào nhau.</text>

<!-- R step 9 -->
<circle class="num" cx="764.2" cy="426.5" r="6.2"/><text class="numt" x="764.2" y="430.2">9</text>
<g class="bf" style="fill:#7cc4ee">
<polygon points="786,438.4 799.4,421.7 823.4,456.4 806.1,465.4"/>
<polygon points="759,453.4 780.7,431.7 806.1,465.4 806.1,517 759,503.6"/>
<polygon points="806.1,465.4 823.4,456.4 823.4,505 806.1,517"/>
</g>
<polyline points="759,453.4 774.7,485.6 806.1,465.4" fill="none" stroke="#2a62b8" stroke-width="1.5"/>
<line x1="780.7" y1="431.7" x2="774.7" y2="485.6" stroke="#2a62b8" stroke-width="1.2"/>
<path d="M779.5 435 Q773 455 775 480 Q780 458 779.5 435 Z" fill="#fff" stroke="#2a62b8" stroke-width="0.8"/>
<path d="M799 424 Q796 438 797 450" fill="none" stroke="#2a62b8" stroke-width="1"/>
<text class="t" x="773.4" y="541">Chiếc hộp đựng</text>
<text class="t" x="773.4" y="554.5">bút đã hoàn thành.</text>

<!-- bottom-right scene -->
<polygon points="661,632 1064,632 1064,713.4 581.4,713.4" fill="#f09cc4"/>
<g stroke="#fff" stroke-width="2">
<line x1="640.5" y1="653.5" x2="1064" y2="653.5"/>
<line x1="619.5" y1="675" x2="1064" y2="675"/>
<line x1="596" y1="699" x2="1064" y2="699"/>
</g>
<!-- marbles -->
<circle cx="712.4" cy="654.5" r="15.5" fill="#1cb0ea"/>
<path d="M703 660 Q704 648 713 644" stroke="#8ad4f4" stroke-width="3.5" fill="none" stroke-linecap="round"/>
<g fill="#1a5a9a"><circle cx="700" cy="651" r="0.9"/><circle cx="710" cy="655" r="0.9"/><circle cx="722" cy="650" r="0.9"/><circle cx="703" cy="662" r="0.9"/><circle cx="713" cy="667" r="0.9"/><circle cx="723" cy="661" r="0.9"/></g>
<circle cx="653.5" cy="678.8" r="15.5" fill="#e0107a"/>
<path d="M644 683 Q645 672 653 668" stroke="#f070b0" stroke-width="3.5" fill="none" stroke-linecap="round"/>
<g fill="#f8a040"><circle cx="656" cy="679" r="0.9"/><circle cx="666" cy="678" r="0.9"/><circle cx="648" cy="687" r="0.9"/><circle cx="659" cy="689" r="0.9"/></g>

<!-- green pencil -->
<polygon points="742,665.2 769.9,644.8 775,669.5" fill="#f8ece4"/>
<polygon points="742,665.2 749.5,657.9 753.2,667.4" fill="#111"/>
<path d="M769.9,644.8 L876.8,623 Q884,624 884,634 L882.6,646.3 L775,669.5 Q772,657 769.9,644.8 Z" fill="#88c428"/>

<circle cx="775.4" cy="648.3" r="1.9" fill="#2aa040"/><circle cx="783.5" cy="654.8" r="1.9" fill="#6a9a20"/><circle cx="778.6" cy="664.1" r="1.9" fill="#2aa040"/><circle cx="788.4" cy="645.7" r="1.9" fill="#6a9a20"/><circle cx="796.5" cy="652.1" r="1.9" fill="#2aa040"/><circle cx="791.6" cy="661.3" r="1.9" fill="#6a9a20"/><circle cx="801.4" cy="643.0" r="1.9" fill="#2aa040"/><circle cx="809.5" cy="649.4" r="1.9" fill="#6a9a20"/><circle cx="804.6" cy="658.6" r="1.9" fill="#2aa040"/><circle cx="814.4" cy="640.3" r="1.9" fill="#6a9a20"/><circle cx="822.5" cy="646.7" r="1.9" fill="#2aa040"/><circle cx="817.5" cy="655.8" r="1.9" fill="#6a9a20"/><circle cx="827.4" cy="637.7" r="1.9" fill="#2aa040"/><circle cx="835.5" cy="644.0" r="1.9" fill="#6a9a20"/><circle cx="830.5" cy="653.0" r="1.9" fill="#2aa040"/><circle cx="840.4" cy="635.0" r="1.9" fill="#6a9a20"/><circle cx="848.5" cy="641.3" r="1.9" fill="#2aa040"/><circle cx="843.5" cy="650.3" r="1.9" fill="#6a9a20"/><circle cx="853.5" cy="632.4" r="1.9" fill="#2aa040"/><circle cx="861.5" cy="638.6" r="1.9" fill="#6a9a20"/><circle cx="856.5" cy="647.5" r="1.9" fill="#2aa040"/><circle cx="866.5" cy="629.7" r="1.9" fill="#6a9a20"/><circle cx="874.5" cy="635.9" r="1.9" fill="#2aa040"/><circle cx="869.4" cy="644.7" r="1.9" fill="#6a9a20"/>
<!-- dog -->
<path d="M892 664 Q891 654 895 648" stroke="#d08a18" stroke-width="7.5" stroke-linecap="round" fill="none"/>
<ellipse cx="887.5" cy="678" rx="20" ry="17.5" fill="#f8d400"/>
<ellipse cx="854.6" cy="685" rx="21" ry="19.6" fill="#fbe300"/>
<ellipse cx="838.7" cy="674.6" rx="11.5" ry="8" fill="#d08a18" transform="rotate(-30 838.7 674.6)"/>
<ellipse cx="880.2" cy="679.2" rx="8.5" ry="13" fill="#d08a18" transform="rotate(-25 880.2 679.2)"/>
<ellipse cx="855.5" cy="696.5" rx="18.5" ry="9.1" fill="#fff"/>
<circle cx="844.6" cy="684.5" r="2.6" fill="#111"/><circle cx="868.8" cy="686.3" r="2.6" fill="#111"/>
<ellipse cx="855.1" cy="692.9" rx="5.3" ry="3" fill="#e0207a"/>
<!-- teal back -->
<polygon points="966,546 992.5,519.3 1038,582.9 1006.8,603.75 958.6,538.1" fill="#1ea496"/>
<line x1="992.5" y1="519.3" x2="993" y2="560" stroke="#1a9080" stroke-width="0.6"/>
<!-- pencils -->
<polygon points="933.9,469.5 923.6,505 955,498.9" fill="#f6ece6"/>
<polygon points="933.9,469.5 929.8,481.8 942,480.5" fill="#111"/>
<polygon points="923.6,505 935.2,503 942,550 933.9,560" fill="#e8185a"/>
<polygon points="935.2,503 946.8,500.2 953.7,546 942,552" fill="#fbd21e"/>
<polygon points="946.8,500.2 955,498.9 963.2,541.9 953.7,547" fill="#2ea84a"/>
<polygon points="1041,492 1023.2,514.6 1045.7,519.3" fill="#f6ece6"/>
<polygon points="1041,492 1035.5,499.6 1043,501" fill="#111"/>
<polygon points="1023.2,514.6 1045.7,519.3 1027.6,600 1002.9,600" fill="#fbd21e"/>

<circle cx="1029.0" cy="520.0" r="2.4" fill="#f0922a"/><circle cx="1036.8" cy="529.6" r="2.4" fill="#f0922a"/><circle cx="1025.3" cy="535.8" r="2.4" fill="#f0922a"/><circle cx="1033.2" cy="545.1" r="2.4" fill="#f0922a"/><circle cx="1021.6" cy="551.7" r="2.4" fill="#f0922a"/><circle cx="1029.7" cy="560.5" r="2.4" fill="#f0922a"/><circle cx="1017.9" cy="567.5" r="2.4" fill="#f0922a"/><circle cx="1026.2" cy="576.0" r="2.4" fill="#f0922a"/><circle cx="1014.2" cy="583.4" r="2.4" fill="#f0922a"/><circle cx="1022.6" cy="591.5" r="2.4" fill="#f0922a"/>
<!-- holder -->
<defs><filter id="blur3" x="-50%" y="-50%" width="200%" height="200%"><feGaussianBlur stdDeviation="3"/></filter></defs>
<polygon points="1010,612 1040,590 1048,600 1049,680 1012,706" fill="#000" opacity="0.16" filter="url(#blur3)"/>
<path d="M916.1,575.1 L958.6,538.1 L1006.8,603.75 L1007.5,702 Q960,692 915.6,676 Z" fill="#1590c2"/>
<polygon points="958.6,538.1 1006.8,603.75 948.2,638.9" fill="#1c9ccf"/>
<polygon points="916.1,575.1 958.6,538.1 948.2,638.9" fill="#22a2d6"/>
<path d="M955.5 546 Q949 590 948.5 634 Q952 590 957 548 Z" fill="#0e7a9e"/>
<polygon points="1006.8,603.75 1038,582.9 1042.5,677 1007.5,702" fill="#2ab4e8"/>
<circle cx="933.2" cy="687" r="15.5" fill="#a4cc22"/>
<path d="M924 692 Q924 681 932 677" stroke="#cce680" stroke-width="3.5" fill="none" stroke-linecap="round"/>
<g fill="#2a8a3a"><circle cx="932" cy="675.5" r="0.9"/><circle cx="943" cy="679.5" r="0.9"/><circle cx="933.5" cy="687" r="0.9"/><circle cx="943" cy="691.5" r="0.9"/><circle cx="925" cy="696" r="0.9"/><circle cx="936" cy="698.5" r="0.9"/></g>
<!-- page number 11 -->
<g transform="translate(832.7 731.6)"><g fill="#e8707a"><circle cx="9.70" cy="0.00" r="2.5"/><circle cx="8.40" cy="4.85" r="2.5"/><circle cx="4.85" cy="8.40" r="2.5"/><circle cx="0.00" cy="9.70" r="2.5"/><circle cx="-4.85" cy="8.40" r="2.5"/><circle cx="-8.40" cy="4.85" r="2.5"/><circle cx="-9.70" cy="0.00" r="2.5"/><circle cx="-8.40" cy="-4.85" r="2.5"/><circle cx="-4.85" cy="-8.40" r="2.5"/><circle cx="-0.00" cy="-9.70" r="2.5"/><circle cx="4.85" cy="-8.40" r="2.5"/><circle cx="8.40" cy="-4.85" r="2.5"/></g><circle r="8.2" fill="#e8707a"/><circle r="7.7" fill="#fcd458"/><text x="0" y="3.3" font-size="9" font-weight="bold" text-anchor="middle" fill="#1a1a1a">11</text></g>
</g>
</svg>
</body></html>
